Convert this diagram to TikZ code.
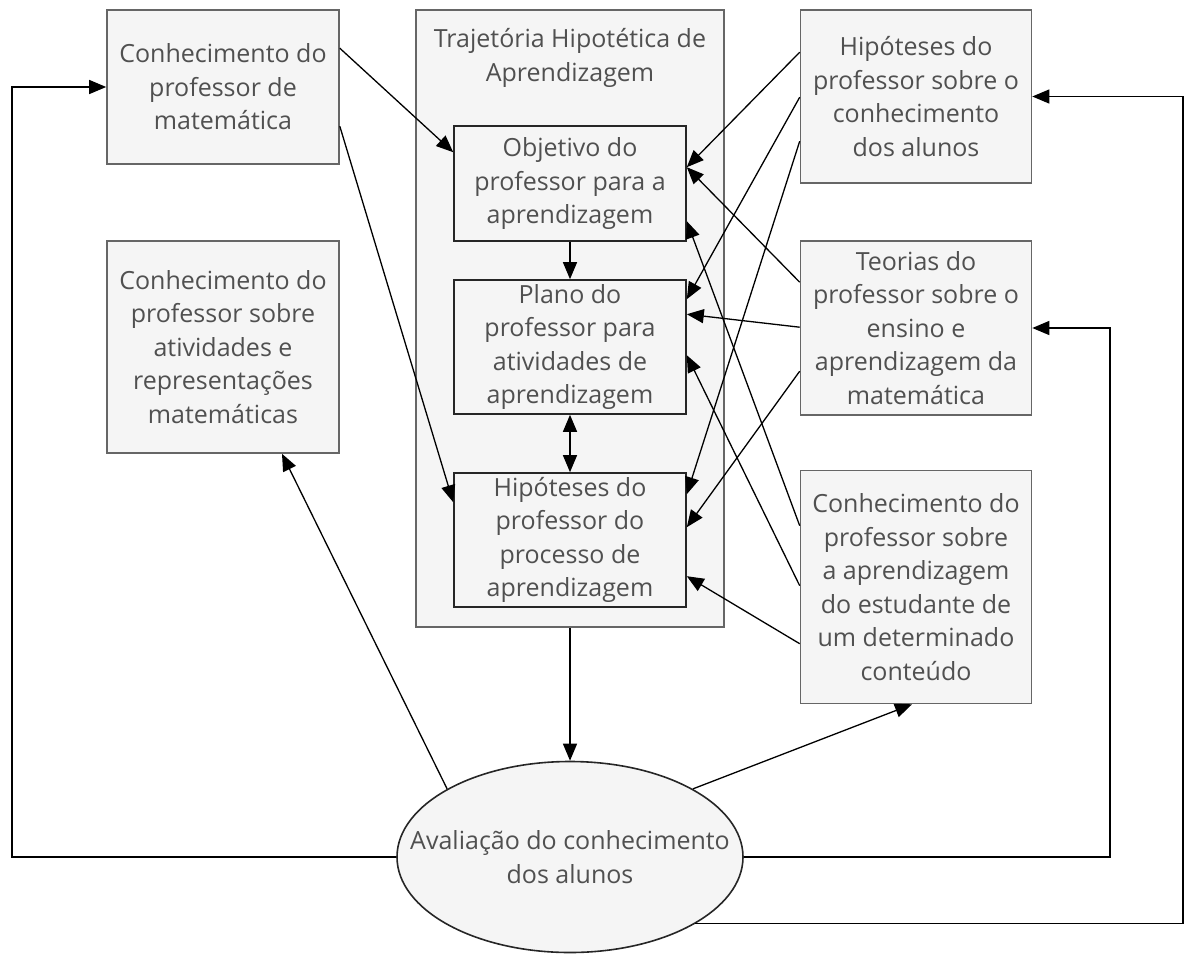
\documentclass[tikz,border=0pt]{standalone}
\usepackage{fontspec}
\setmainfont{Open Sans}
\usetikzlibrary{arrows.meta, shapes.geometric}
\definecolor{boxfill}{HTML}{F5F5F5}
\definecolor{boxline}{HTML}{666666}
\definecolor{boxtext}{HTML}{505050}

\begin{document}
\begin{tikzpicture}[x=1pt, y=-1pt, ->, >={Triangle[length=17pt, width=14pt]}, line width=1.3pt]
    \tikzstyle{box} = [draw=boxline, fill=boxfill, text=boxtext, align=center,
        font=\fontsize{25}{33.5}\selectfont, inner sep=0pt, line width=1.6pt]
    \tikzstyle{inbox} = [box, draw=black!85, minimum width=232pt]
    \useasboundingbox (0,0) rectangle (1184,954);
    % left column
    \node [box, minimum width=232pt, minimum height=154pt] at (223,87) (kmat)
        {Conhecimento do\\professor de\\matemática};
    \node [box, minimum width=232pt, minimum height=212pt] at (223,347) (kativ)
        {Conhecimento do\\professor sobre\\atividades e\\representações\\matemáticas};
    % trajectory
    \node [box, line width=2pt, minimum width=308pt, minimum height=617pt] at (570,318.5) (hlt) {};
    \node [text=boxtext, align=center, font=\fontsize{25}{33.5}\selectfont] at (570,58) (hlttitle)
        {Trajetória Hipotética de\\Aprendizagem};
    \node [inbox, minimum height=115pt] at (570,183.5) (obj)
        {Objetivo do\\professor para a\\aprendizagem};
    \node [inbox, minimum height=134pt] at (570,347) (plano)
        {Plano do\\professor para\\atividades de\\aprendizagem};
    \node [inbox, minimum height=134pt] at (570,540) (hip)
        {Hipóteses do\\professor do\\processo de\\aprendizagem};
    % right column
    \node [box, minimum width=231pt, minimum height=173pt] at (916,96.5) (hipal)
        {Hipóteses do\\professor sobre o\\conhecimento\\dos alunos};
    \node [box, minimum width=231pt, minimum height=174pt] at (916,328) (teor)
        {Teorias do\\professor sobre o\\ensino e\\aprendizagem da\\matemática};
    \node [box, minimum width=231pt, minimum height=233pt] at (916,587) (conh)
        {Conhecimento do\\professor sobre\\a aprendizagem\\do estudante de\\um determinado\\conteúdo};
    \node [box, ellipse, draw=black!85, minimum width=346pt, minimum height=191pt,
        label={[text=boxtext, align=center, font=\fontsize{25}{33.5}\selectfont]center:Avaliação do conhecimento\\dos alunos}]
        at (570,857) (aval) {};
    \coordinate (leftrail) at (12,0);
    \coordinate (midrail) at (1110,0);
    \coordinate (rightrail) at (1183,0);

    \draw ([yshift=-39pt]kmat.north east) -- ([yshift=-27pt]obj.north west);
    \draw ([yshift=-117pt]kmat.north east) -- ([yshift=-30pt]hip.north west);
    \draw (obj) -- (plano);
    \draw[<->] (plano) -- (hip);
    \draw (hlt) -- (aval);
    \draw ([yshift=-43pt]hipal.north west) -- ([yshift=-42pt]obj.north east);
    \draw ([yshift=-88pt]hipal.north west) -- ([yshift=-20pt]plano.north east);
    \draw ([yshift=-132pt]hipal.north west) -- ([yshift=-22pt]hip.north east);
    \draw ([yshift=-42pt]teor.north west) -- ([yshift=-42pt]obj.north east);
    \draw ([yshift=-87pt]teor.north west) -- ([yshift=-35pt]plano.north east);
    \draw ([yshift=-131pt]teor.north west) -- ([yshift=-55pt]hip.north east);
    \draw ([yshift=-56pt]conh.north west) -- ([yshift=-96pt]obj.north east);
    \draw ([yshift=-116pt]conh.north west) -- ([yshift=-76pt]plano.north east);
    \draw ([yshift=-174pt]conh.north west) -- ([yshift=-104pt]hip.north east);
    \draw (aval.151) -- ([xshift=59pt]kativ.south);
    \draw (aval.29) -- ([xshift=-4pt]conh.south);
    \draw (aval.west) -- (aval.west -| leftrail) |- (kmat.west);
    \draw (aval.east) -- (aval.east -| midrail) |- (teor.east);
    \draw (aval.-28) -- (aval.-28 -| rightrail) |- (hipal.east);
\end{tikzpicture}
\end{document}
